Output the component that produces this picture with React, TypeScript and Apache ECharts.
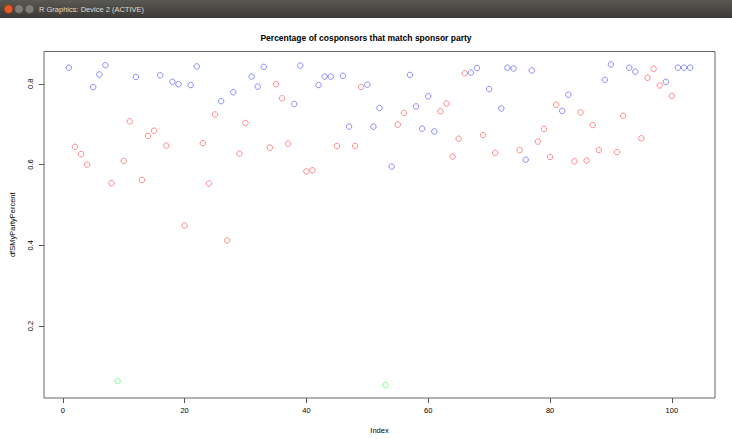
import React, { useEffect, useRef } from "react";
import * as echarts from "echarts";

// Party code per index: D = blue, R = red, I = green
const party: string[] = [
  "D","R","R","R","D","D","D","R","I","R",
  "R","D","R","R","R","D","R","D","D","R",
  "D","D","R","R","R","D","R","D","R","R",
  "D","D","D","R","R","R","R","D","D","R",
  "R","D","D","D","R","D","D","R","R","D",
  "D","D","I","D","R","R","D","D","D","D",
  "D","R","R","R","R","R","D","D","R","D",
  "R","D","D","D","R","D","D","R","R","R",
  "R","D","D","R","R","R","R","R","D","D",
  "R","R","D","D","R","R","R","R","D","R",
  "D","D","D",
];

const percent: number[] = [
  0.840, 0.644, 0.626, 0.600, 0.792, 0.823, 0.846, 0.554, 0.064, 0.609,
  0.707, 0.817, 0.562, 0.671, 0.684, 0.821, 0.647, 0.805, 0.799, 0.449,
  0.797, 0.843, 0.653, 0.553, 0.724, 0.757, 0.412, 0.779, 0.627, 0.703,
  0.818, 0.793, 0.842, 0.642, 0.799, 0.764, 0.652, 0.750, 0.845, 0.583,
  0.586, 0.797, 0.818, 0.818, 0.646, 0.820, 0.694, 0.646, 0.792, 0.798,
  0.694, 0.740, 0.054, 0.595, 0.699, 0.728, 0.822, 0.744, 0.689, 0.769,
  0.682, 0.732, 0.751, 0.620, 0.664, 0.826, 0.828, 0.839, 0.673, 0.787,
  0.629, 0.739, 0.840, 0.838, 0.636, 0.612, 0.833, 0.657, 0.688, 0.619,
  0.748, 0.733, 0.773, 0.608, 0.729, 0.610, 0.698, 0.636, 0.810, 0.848,
  0.631, 0.721, 0.840, 0.830, 0.665, 0.815, 0.837, 0.796, 0.805, 0.770,
  0.840, 0.840, 0.840,
];

const xTicks: number[] = [0, 20, 40, 60, 80, 100];
const yTicks: number[] = [0.2, 0.4, 0.6, 0.8];

const partyColors: Record<string, string> = {
  D: "rgba(0,0,255,0.55)",
  R: "rgba(255,0,0,0.55)",
  I: "rgba(0,255,0,0.6)",
};

const FONT = "'Liberation Sans', Arial, Helvetica, sans-serif";

export default function App() {
  const ref = useRef<HTMLDivElement>(null);

  useEffect(() => {
    if (!ref.current) return;
    const chart = echarts.init(ref.current, undefined, { renderer: "svg" });

    const series = ["D", "R", "I"].map((p) => ({
      type: "scatter" as const,
      name: p,
      symbol: "circle",
      symbolSize: 5.5,
      itemStyle: {
        color: "rgba(0,0,0,0)",
        borderColor: partyColors[p],
        borderWidth: 1,
      },
      data: percent
        .map((v, i) => (party[i] === p ? [i + 1, v] : null))
        .filter((d) => d !== null),
    }));

    chart.setOption({
      animation: false,
      backgroundColor: "#ffffff",
      textStyle: { fontFamily: FONT },
      title: {
        text: "Percentage of cosponsors that match sponsor party",
        left: "center",
        top: 28,
        textStyle: { fontSize: 8.5, fontWeight: "bold", color: "#000", fontFamily: FONT },
      },
      grid: {
        left: 39.5,
        top: 51.5,
        right: 17,
        bottom: 33,
        show: true,
        borderColor: "#666",
        borderWidth: 1,
        backgroundColor: "transparent",
      },
      xAxis: {
        type: "value",
        min: -3.08,
        max: 107.08,
        name: "Index",
        nameLocation: "middle",
        nameGap: 28,
        nameTextStyle: { fontSize: 7.5, color: "#000", fontFamily: FONT },
        axisLine: { show: false, onZero: false },
        splitLine: { show: false },
        axisTick: {
          show: true,
          inside: false,
          length: 5,
          customValues: xTicks,
          lineStyle: { color: "#555" },
        },
        axisLabel: {
          customValues: xTicks,
          fontSize: 7.5,
          margin: 8,
          color: "#000",
          fontFamily: FONT,
        },
      },
      yAxis: {
        type: "value",
        min: 0.022,
        max: 0.88,
        name: "dfSMyPartyPercent",
        nameLocation: "middle",
        nameRotate: 90,
        nameGap: 28,
        nameTextStyle: { fontSize: 7.5, color: "#000", fontFamily: FONT },
        axisLine: { show: false, onZero: false },
        splitLine: { show: false },
        axisTick: {
          show: true,
          inside: false,
          length: 5,
          customValues: yTicks,
          lineStyle: { color: "#555" },
        },
        axisLabel: {
          customValues: yTicks,
          rotate: 90,
          fontSize: 7.5,
          margin: 10,
          color: "#000",
          fontFamily: FONT,
          formatter: (v: number) => String(v),
        },
      },
      graphic: [
        {
          type: "rect",
          shape: { x: 0, y: 0, width: 732, height: 18 },
          style: {
            fill: new echarts.graphic.LinearGradient(0, 0, 0, 1, [
              { offset: 0, color: "#5a5853" },
              { offset: 1, color: "#3a3935" },
            ]),
          },
          silent: true,
        },
        {
          type: "circle",
          shape: { cx: 8.5, cy: 9, r: 4.3 },
          style: { fill: "#e35a2a", stroke: "#8a2f10", lineWidth: 0.5 },
          silent: true,
        },
        {
          type: "circle",
          shape: { cx: 19, cy: 9, r: 4.3 },
          style: { fill: "#7f7d77", stroke: "#4a4945", lineWidth: 0.5 },
          silent: true,
        },
        {
          type: "circle",
          shape: { cx: 29.5, cy: 9, r: 4.3 },
          style: { fill: "#7f7d77", stroke: "#4a4945", lineWidth: 0.5 },
          silent: true,
        },
        {
          type: "text",
          x: 39,
          y: 9,
          style: {
            text: "R Graphics: Device 2 (ACTIVE)",
            fill: "#dfdbd2",
            fontSize: 7.5,
            fontFamily: FONT,
            verticalAlign: "middle",
          },
          silent: true,
        },
      ],
      series,
    });

    return () => chart.dispose();
  }, []);

  return (
    <div
      ref={ref}
      style={{ position: "fixed", left: 0, top: 0, width: 732, height: 439 }}
    />
  );
}
